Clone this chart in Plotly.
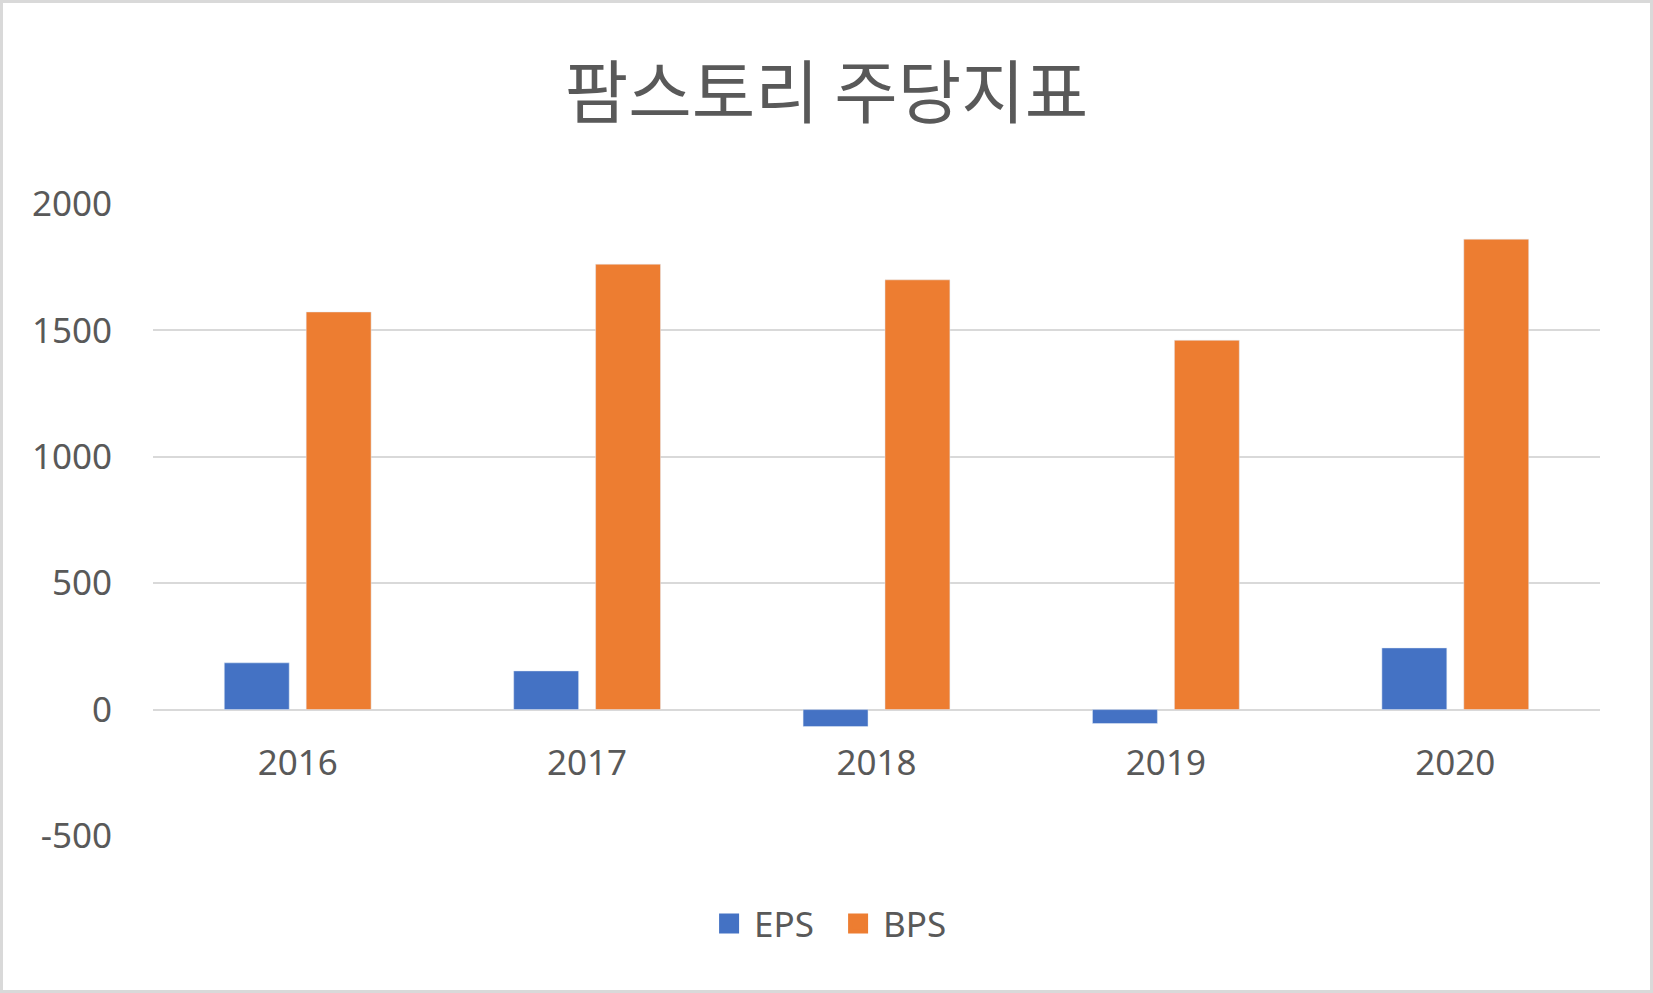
import plotly.graph_objects as go

# 팜스토리 주당지표 (EPS / BPS)
years = ["2016", "2017", "2018", "2019", "2020"]
eps = [185, 153, -67, -55, 244]
bps = [1573, 1762, 1700, 1461, 1861]
y_ticks = [-500, 0, 500, 1000, 1500, 2000]
y_tick_text = ["-500", "0", "500", "1000", "1500", "2000"]

blue = "#4472C4"
orange = "#ED7D31"
text_grey = "#595959"
grid_grey = "#D9D9D9"

fig = go.Figure()
fig.add_trace(go.Bar(x=years, y=eps, name="EPS", marker_color=blue,
                     showlegend=False))
fig.add_trace(go.Bar(x=years, y=bps, name="BPS", marker_color=orange,
                     showlegend=False))

# legend entries with bigger square swatches
for name, col in [("EPS", blue), ("BPS", orange)]:
    fig.add_trace(go.Scatter(x=[None], y=[None], mode="markers", name=name,
                             marker=dict(symbol="square", size=23, color=col,
                                         line=dict(color=col, width=4))))

fig.update_layout(
    width=1653, height=993,
    paper_bgcolor="white", plot_bgcolor="white",
    margin=dict(l=153, r=53, t=204, b=157),
    barmode="group", bargap=0.434, bargroupgap=0.207,
    font=dict(family="Noto Sans", size=35, color=text_grey),
    title=dict(text="팜스토리 주당지표", x=0.5, xanchor="center",
               y=0.905, yanchor="middle",
               font=dict(family="Noto Sans CJK KR", size=69, color=text_grey)),
    legend=dict(orientation="h", x=0.47, xanchor="center", y=-0.092,
                yanchor="top", font=dict(size=35, color=text_grey),
                itemsizing="trace", itemwidth=40, entrywidth=74,
                entrywidthmode="pixels"),
    showlegend=True,
)

fig.update_xaxes(
    type="category", range=[-0.5, 4.5],
    anchor="free", position=0.2,
    showline=False, showgrid=False, ticks="",
    ticklabelstandoff=29,
    tickfont=dict(size=35, color=text_grey),
)
fig.update_yaxes(
    range=[-500, 2000], tickvals=y_ticks, ticktext=y_tick_text,
    showgrid=True, gridcolor=grid_grey, gridwidth=2,
    zeroline=True, zerolinecolor=grid_grey, zerolinewidth=2,
    showline=False, ticks="", ticklabelstandoff=40,
    tickfont=dict(size=35, color=text_grey),
)

# outer chart border
fig.add_shape(type="rect", xref="paper", yref="paper",
              x0=-0.1047, x1=1.0356, y0=-0.246, y1=1.3204,
              line=dict(color=grid_grey, width=3), layer="below")

fig.write_html("out.html", config={"displayModeBar": False},
               post_script="document.body.style.margin='0';")
